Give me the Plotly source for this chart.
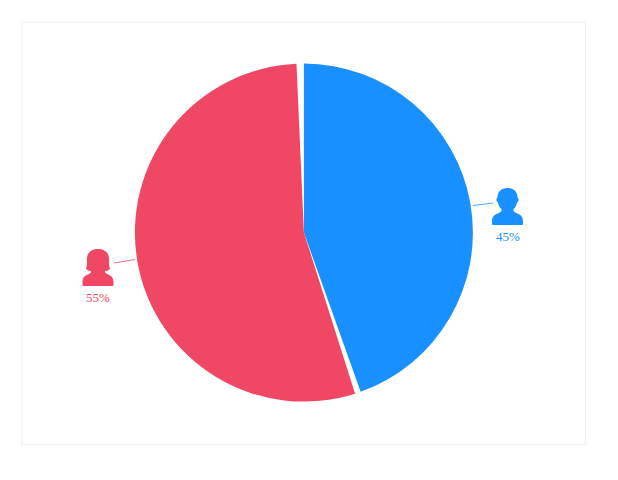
import plotly.graph_objects as go

# Angular shares (the thin white wedges are the gaps between the two slices)
slice_names = ["male", "gap after male", "female", "gap after female"]
slice_values = [44.55, 0.55, 54.2, 0.7]
slice_colors = ["#1890FF", "rgba(0,0,0,0)", "#F04864", "rgba(0,0,0,0)"]
label_texts = ["45%", "55%"]
label_colors = ["#1890FF", "#F04864"]

W, H = 618, 480
CX, CY, R = 303.9, 232.6, 169.0


def to_path(cmds, x, y):
    out = []
    for c in cmds:
        nums = c[1:]
        pts = [f"{x + nums[i]},{y + nums[i + 1]}" for i in range(0, len(nums), 2)]
        out.append(c[0] + " ".join(pts))
    return " ".join(out) + " Z"


def male_icon(x, y):
    # x,y = top-centre of the icon, in page pixels
    return to_path([
        ("M", 0, 0),
        ("C", 6.5, 0, 10, 4, 10, 9.5),
        ("C", 11.5, 10, 11.5, 14, 9.5, 14.5),
        ("C", 9, 17.5, 7.5, 20, 6, 21),
        ("L", 6, 23),
        ("C", 8, 26, 15.5, 25.5, 15.5, 33),
        ("L", 15.5, 35.5),
        ("C", 15.5, 36.7, 15, 37, 14, 37),
        ("L", -14, 37),
        ("C", -15, 37, -15.5, 36.7, -15.5, 35.5),
        ("L", -15.5, 33),
        ("C", -15.5, 25.5, -8, 26, -6, 23),
        ("L", -6, 21),
        ("C", -7.5, 20, -9, 17.5, -9.5, 14.5),
        ("C", -11.5, 14, -11.5, 10, -10, 9.5),
        ("C", -10, 4, -6.5, 0, 0, 0),
    ], x, y)


def female_icon(x, y):
    return to_path([
        ("M", 0, 0),
        ("C", 7, 0, 11, 4, 11, 10),
        ("C", 11, 14, 11, 17, 12, 20),
        ("C", 10.5, 21.5, 8.5, 22, 7, 22),
        ("L", 7, 23.5),
        ("C", 9, 26, 15.5, 25.5, 15.5, 33),
        ("L", 15.5, 35.5),
        ("C", 15.5, 36.7, 15, 37, 14, 37),
        ("L", -14, 37),
        ("C", -15, 37, -15.5, 36.7, -15.5, 35.5),
        ("L", -15.5, 33),
        ("C", -15.5, 25.5, -9, 26, -7, 23.5),
        ("L", -7, 22),
        ("C", -8.5, 22, -10.5, 21.5, -12, 20),
        ("C", -11, 17, -11, 14, -11, 10),
        ("C", -11, 4, -7, 0, 0, 0),
    ], x, y)


fig = go.Figure(go.Pie(
    labels=slice_names,
    values=slice_values,
    sort=False,
    direction="clockwise",
    rotation=0,
    hole=0,
    textinfo="none",
    hoverinfo="skip",
    showlegend=False,
    marker=dict(colors=slice_colors, line=dict(width=0)),
    domain=dict(x=[(CX - R) / W, (CX + R) / W], y=[1 - (CY + R) / H, 1 - (CY - R) / H]),
))

card = dict(type="rect", xref="x", yref="y", x0=22, x1=585.5, y0=22, y1=444.5,
            line=dict(color="#EFEFEF", width=1), fillcolor="rgba(0,0,0,0)", layer="below")
shapes = [
    card,
    dict(type="line", xref="x", yref="y", x0=473, y0=205.5, x1=493, y1=203,
         line=dict(color="#1890FF", width=0.8)),
    dict(type="line", xref="x", yref="y", x0=114, y0=263, x1=135, y1=259.5,
         line=dict(color="#F04864", width=0.8)),
    dict(type="path", xref="x", yref="y", path=male_icon(507.5, 188),
         fillcolor="#1890FF", line=dict(width=0)),
    dict(type="path", xref="x", yref="y", path=female_icon(98, 249),
         fillcolor="#F04864", line=dict(width=0)),
]

annotations = [
    dict(x=508, y=236, xref="x", yref="y", text=label_texts[0], showarrow=False,
         font=dict(family="Liberation Serif", size=13, color=label_colors[0])),
    dict(x=98, y=297, xref="x", yref="y", text=label_texts[1], showarrow=False,
         font=dict(family="Liberation Serif", size=13, color=label_colors[1])),
]

fig.update_layout(
    width=W, height=H,
    margin=dict(l=0, r=0, t=0, b=0),
    paper_bgcolor="white", plot_bgcolor="rgba(0,0,0,0)",
    xaxis=dict(range=[0, W], visible=False, fixedrange=True),
    yaxis=dict(range=[H, 0], visible=False, fixedrange=True),
    shapes=shapes, annotations=annotations,
)
fig.write_html("out.html", post_script="document.body.style.margin='0';", config=dict(displayModeBar=False))
